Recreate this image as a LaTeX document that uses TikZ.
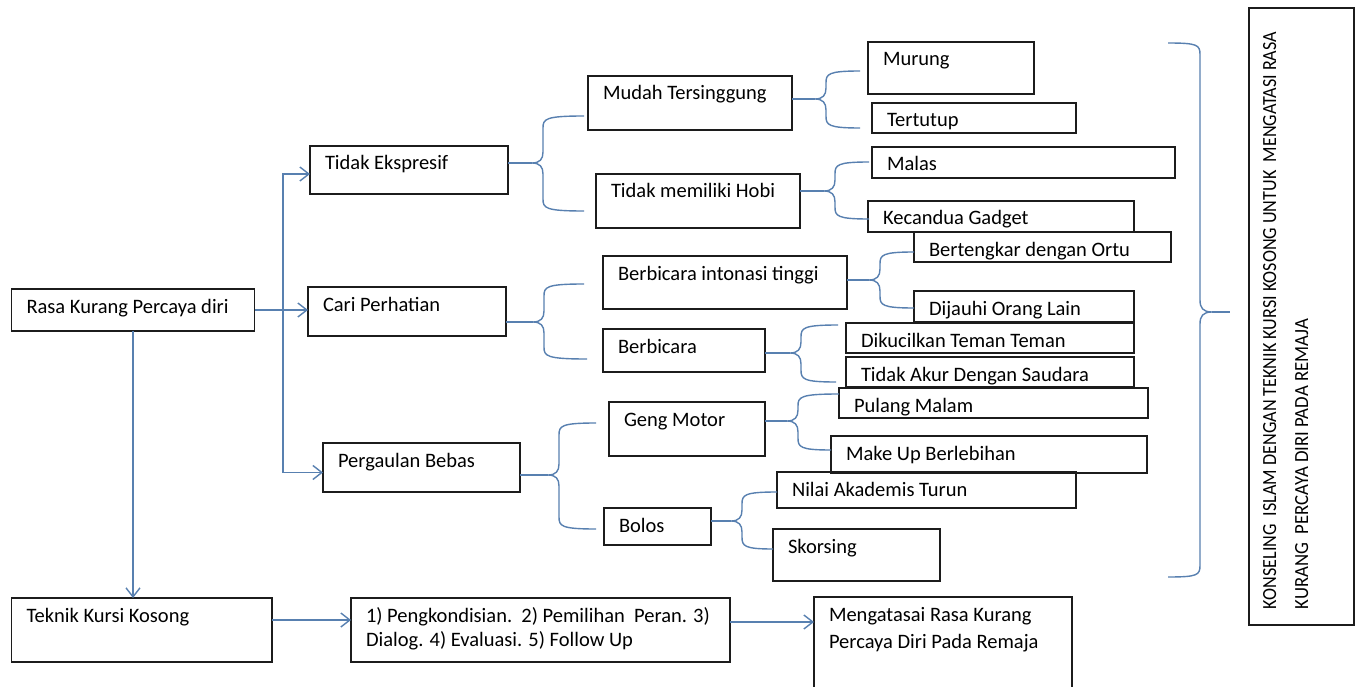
\documentclass[tikz,border=0pt]{standalone}
\usepackage{fontspec}
\setmainfont{Carlito}
\usetikzlibrary{arrows.meta}
\definecolor{conc}{RGB}{88,128,176}
\definecolor{boxc}{RGB}{28,28,28}
\tikzset{
  boxst/.style={draw=boxc, line width=1.6pt, inner sep=0pt, outer sep=0pt},
  txt/.style={inner sep=0pt, outer sep=0pt, font=\fontsize{20.5}{25}\selectfont, text=black},
  con/.style={draw=conc, line width=1.4pt},
  arr/.style={con, -{Straight Barb[length=9pt,width=14pt,line width=1.4pt]}},
}
% box with one line of text: name, x1, y1, x2, y2, text
\newcommand\bx[6]{%
  \node[boxst, anchor=north west, minimum width={(#4-#2)*1pt}, minimum height={(#5-#3)*1pt}] (#1) at (#2,#3) {};
  \node[txt, anchor=base west] (#1t) at ({#2+15},{#3+24}) {#6};
}
% box with two lines: name, x1, y1, x2, y2, line1, line2, skip
\newcommand\bxtwo[8]{%
  \node[boxst, anchor=north west, minimum width={(#4-#2)*1pt}, minimum height={(#5-#3)*1pt}] (#1) at (#2,#3) {};
  \node[txt, anchor=base west] (#1t) at ({#2+15},{#3+24}) {#6};
  \node[txt, anchor=base west] (#1u) at ({#2+15},{#3+24+#8}) {#7};
}
% left curly brace: parent node, brace x, mid y, top y, bottom y, top end x, bottom end x
\newcommand\brL[7]{%
  \draw[con] (#1.east |- 0,#3) -- ({#2-11},#3);
  \draw[con] (#6,#4) .. controls ({#2+2},#4) and (#2,{#4+3}) .. (#2,{#4+12})
     -- (#2,{#3-11}) .. controls (#2,{#3-4}) and ({#2-3},#3) .. ({#2-11},#3)
     .. controls ({#2-3},#3) and (#2,{#3+4}) .. (#2,{#3+11})
     -- (#2,{#5-12}) .. controls (#2,{#5-3}) and ({#2+2},#5) .. (#7,#5);
}
\begin{document}
\begin{tikzpicture}[x=1pt,y=-1pt]
\clip (0,0) rectangle (1357,687);
\fill[white] (0,0) rectangle (1357,687);

% level 0
\bx{rasa}{11.5}{289}{254.5}{331}{Rasa Kurang Percaya diri}
% level 1
\bx{tidak}{310}{146}{508}{194}{Tidak Ekspresif}
\bx{cari}{308}{287}{506}{336}{Cari Perhatian}
\bx{perg}{323}{443}{520}{492}{Pergaulan Bebas}
% level 2
\bx{mudah}{588}{76}{792}{130}{Mudah Tersinggung}
\bx{hobi}{596}{174}{800}{228}{Tidak memiliki Hobi}
\bx{intonasi}{603}{256}{847}{309}{Berbicara intonasi tinggi}
\bx{berbicara}{603}{329}{765}{372}{Berbicara}
\bx{geng}{609}{402}{765}{456}{Geng Motor}
\bx{bolos}{604}{508}{711}{545}{Bolos}
% level 3
\bx{murung}{868}{42}{1034}{94}{Murung}
\bx{tertutup}{872}{103}{1076}{133}{Tertutup}
\bx{malas}{872}{147}{1175}{178}{Malas}
\bx{gadget}{868}{201}{1134}{232}{Kecandua Gadget}
\bx{ortu}{914}{232}{1171}{262}{Bertengkar dengan Ortu}
\bx{dijauhi}{914}{291}{1134}{322}{Dijauhi Orang Lain}
\bx{dikucilkan}{846}{323}{1134}{353}{Dikucilkan Teman Teman}
\bx{akur}{846}{357}{1134}{387}{Tidak Akur Dengan Saudara}
\bx{pulang}{839}{388}{1148}{418}{Pulang Malam}
\bx{makeup}{831}{436}{1147}{473}{Make Up Berlebihan}
\bx{nilai}{777}{472}{1076}{508}{Nilai Akademis Turun}
\bx{skorsing}{773}{529}{940}{581}{Skorsing}
% bottom row
\bx{teknik}{11.5}{598}{272}{662}{Teknik Kursi Kosong}
\bxtwo{proc}{351}{598}{730}{662}{1) Pengkondisian.\ \ 2) Pemilihan\ \ Peran. 3)}{Dialog. 4) Evaluasi. 5) Follow Up}{24}
\bxtwo{atasi}{814}{597}{1072}{700}{Mengatasai Rasa Kurang}{Percaya Diri Pada Remaja}{27}

% right title box
\node[boxst, anchor=north west, minimum width=105pt, minimum height=617pt] (kons) at (1249,8) {};
\node[txt, rotate=90, anchor=base west] (kons1) at (1276,609)
  {\resizebox{577pt}{13pt}{KONSELING\ \ ISLAM DENGAN TEKNIK KURSI KOSONG UNTUK\ \ MENGATASI RASA}};
\node[txt, rotate=90, anchor=base west] (kons2) at (1308,609)
  {\resizebox{290pt}{13pt}{KURANG\ \ PERCAYA DIRI PADA REMAJA}};

% arrows from Rasa
\coordinate (j) at (283,310);
\draw[con] (rasa.east) -- (j);
\draw[arr] (j) -- (cari.west |- j);
\draw[arr] (j) |- ([yshift=-4pt]tidak.west);
\draw[arr] (j) |- ([yshift=-5pt]perg.west);
\draw[arr] (rasa.south) -- (rasa.south |- teknik.north);
\draw[arr] ([yshift=10pt]teknik.east) -- ([yshift=10pt]teknik.east -| proc.west);
\draw[arr] ([yshift=8pt]proc.east) -- ([yshift=8pt]proc.east -| atasi.west);

% braces
\brL{tidak}{543}{163}{116}{211}{584}{584}
\brL{cari}{544}{322}{284}{359}{584}{587}
\brL{perg}{559}{475}{423}{529}{596}{596}
\brL{mudah}{826}{99}{71}{128}{860}{860}
\brL{hobi}{835}{191}{162}{219}{869}{869}
\brL{intonasi}{880}{280}{252}{308}{914}{914}
\brL{berbicara}{801}{353}{325}{382}{838}{836}
\brL{geng}{798}{421}{394}{450}{839}{831}
\brL{bolos}{742}{521}{492}{549}{777}{773}

% big right brace
\coordinate (bigtip) at (1230,312);
\draw[con] (1168,43) .. controls (1198,43) and (1200,45) .. (1200,55)
  -- (1200,300) .. controls (1200,308) and (1203,312) .. (1212,312)
  .. controls (1203,312) and (1200,316) .. (1200,324)
  -- (1200,565) .. controls (1200,575) and (1198,577) .. (1168,577);
\draw[con] (1212,312) -- (bigtip);
\end{tikzpicture}
\end{document}
